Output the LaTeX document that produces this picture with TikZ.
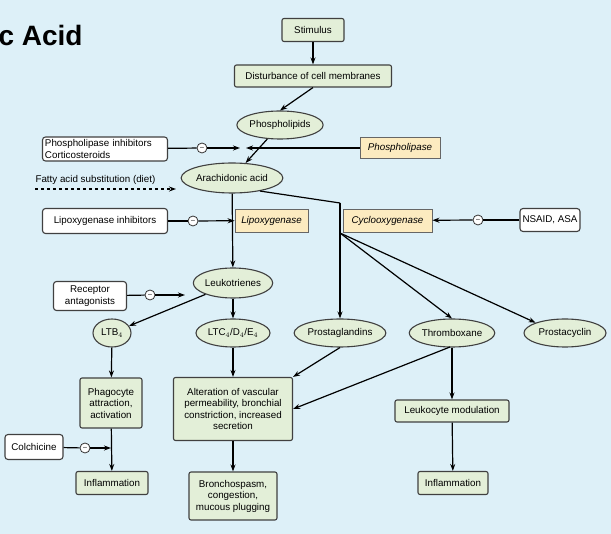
\documentclass[tikz,border=0pt]{standalone}
\usepackage{fontspec}
\setmainfont{Liberation Sans}
\usetikzlibrary{shapes.geometric,arrows.meta}
\definecolor{bg}{HTML}{DDF0F8}
\definecolor{gr}{HTML}{E3EFD8}
\definecolor{og}{HTML}{FCEBC0}
\begin{document}
\begin{tikzpicture}[x=1pt,y=-1pt,font=\fontsize{9.8}{11.5}\selectfont,
 box/.style={draw=black!75,line width=1.1pt,rounded corners=2pt,fill=gr,align=center,inner sep=0.5pt},
 wbox/.style={draw=black!75,line width=1.1pt,rounded corners=3pt,fill=white,align=left,inner sep=0.5pt},
 obox/.style={draw=black!60,line width=0.8pt,fill=og,font=\fontsize{9.8}{11.5}\selectfont\itshape,inner sep=0.5pt},
 ell/.style={draw=black!75,line width=1.1pt,ellipse,fill=gr,inner sep=0pt},
 mn/.style={circle,draw=black!80,line width=0.8pt,fill=white,inner sep=0pt,minimum size=10pt,font=\fontsize{7}{7}\selectfont},
 ar/.style={line width=1.2pt,-{Stealth[length=7pt,width=5pt]}},
 ln/.style={line width=1.2pt}]
\fill[bg] (0,0) rectangle (611,534);
\useasboundingbox (0,0) rectangle (611,534);
\node[anchor=west,font=\fontsize{28}{30}\selectfont\bfseries] (title) at (-5,35) {c Acid};
\node[box,minimum width=62pt,minimum height=23pt] (stim) at (313,30) {Stimulus};
\node[box,minimum width=157pt,minimum height=22pt] (dist) at (313,76) {Disturbance of cell membranes};
\node[ell,minimum width=76pt,minimum height=28pt] (phl) at (280,125) {Phospholipids};
\node[wbox,minimum width=125pt,minimum height=24pt,text width=120pt] (pinh) at (105,149) {Phospholipase inhibitors\\Corticosteroids};
\node[mn] (m1) at (202,148) {--};
\node[obox,minimum width=80pt,minimum height=21pt] (pla) at (400,148) {Phospholipase};
\node[ell,minimum width=88pt,minimum height=30pt] (aa) at (232,178) {Arachidonic acid};
\node[anchor=west] (fat) at (32,180) {Fatty acid substitution (diet)};
\coordinate (fat1) at (35,189); \coordinate (fat2) at (176,189);
\node[wbox,minimum width=125pt,minimum height=25pt] (linh) at (105,221) {Lipoxygenase inhibitors};
\node[mn] (m2) at (193,221) {--};
\node[obox,minimum width=73pt,minimum height=23pt] (lox) at (271.5,220.5) {Lipoxygenase};
\node[obox,minimum width=89pt,minimum height=23pt] (cox) at (387.5,220.5) {Cyclooxygenase};
\node[wbox,minimum width=60pt,minimum height=23pt] (nsaid) at (550,220) {NSAID, ASA};
\node[mn] (m3) at (478,220) {--};
\node[ell,minimum width=74pt,minimum height=30pt] (lt) at (233,283) {Leukotrienes};
\node[wbox,align=center,minimum width=73pt,minimum height=29pt] (rec) at (90,296) {Receptor\\antagonists};
\node[mn] (m4) at (150,295) {--};
\node[ell,minimum width=38pt,minimum height=28pt] (ltb) at (112,333) {LTB$_4$};
\node[ell,minimum width=74pt,minimum height=28pt] (ltc) at (233,333) {LTC$_4$/D$_4$/E$_4$};
\node[ell,minimum width=80pt,minimum height=28pt] (pg) at (340,333) {Prostaglandins};
\node[ell,minimum width=82pt,minimum height=28pt] (tx) at (452,333) {Thromboxane};
\node[ell,minimum width=82pt,minimum height=28pt] (pc) at (565,333) {Prostacyclin};
\node[box,minimum width=62pt,minimum height=50pt] (phag) at (111,403) {Phagocyte\\attraction,\\activation};
\node[box,minimum width=119pt,minimum height=63pt] (alt) at (233,409) {Alteration of vascular\\permeability, bronchial\\constriction, increased\\secretion};
\node[box,minimum width=114pt,minimum height=22pt] (leu) at (452,411) {Leukocyte modulation};
\node[wbox,minimum width=58pt,minimum height=25pt] (col) at (34,447) {Colchicine};
\node[mn] (m5) at (85,448) {--};
\node[box,minimum width=72pt,minimum height=23pt] (inf1) at (112,483) {Inflammation};
\node[box,minimum width=88pt,minimum height=48pt] (bron) at (233,496) {Bronchospasm,\\congestion,\\mucous plugging};
\node[box,minimum width=70pt,minimum height=23pt] (inf2) at (453,483) {Inflammation};
\coordinate (j1) at (240,148);
\coordinate (j3) at (185,295);
\coordinate (j4) at (111,448);
\coordinate (k1) at (340,203);
\coordinate (k2) at (340,233);
\coordinate (t1) at (450,347);
\draw[ar] (stim) -- (dist);
\draw[ar] (dist.south) -- (phl.north);
\draw[ar] (phl) -- (aa);
\draw[ln] (pinh) -- (m1); \draw[ar] (m1) -- (j1);
\draw[ar] (pla) -- (246,148);
\draw[ar,dashed] (fat1) -- (fat2);
\draw[ln] (linh) -- (m2); \draw[ar] (m2) -- (lox);
\draw[ar] (aa) -- (lt);
\draw[ln] (aa.-25) -- (k1);
\draw[ar] (k1) -- (pg);
\draw[ar] (k2) -- (tx.north);
\draw[ar] (k2) -- (pc.north west);
\draw[ln] (nsaid) -- (m3); \draw[ar] (m3) -- (cox);
\draw[ln] (rec) -- (m4); \draw[ar] (m4) -- (j3);
\draw[ar] (lt) -- (ltb);
\draw[ar] (lt) -- (ltc);
\draw[ar] (ltb) -- (phag);
\draw[ar] (ltc) -- (alt);
\draw[ar] (pg.south) -- (alt.north east);
\draw[ar] (t1) -- (alt.east);
\draw[ar] (tx) -- (leu);
\draw[ar] (phag) -- (inf1);
\draw[ln] (col) -- (m5); \draw[ar] (m5) -- (j4);
\draw[ar] (alt) -- (bron);
\draw[ar] (leu) -- (inf2);
\end{tikzpicture}
\end{document}
